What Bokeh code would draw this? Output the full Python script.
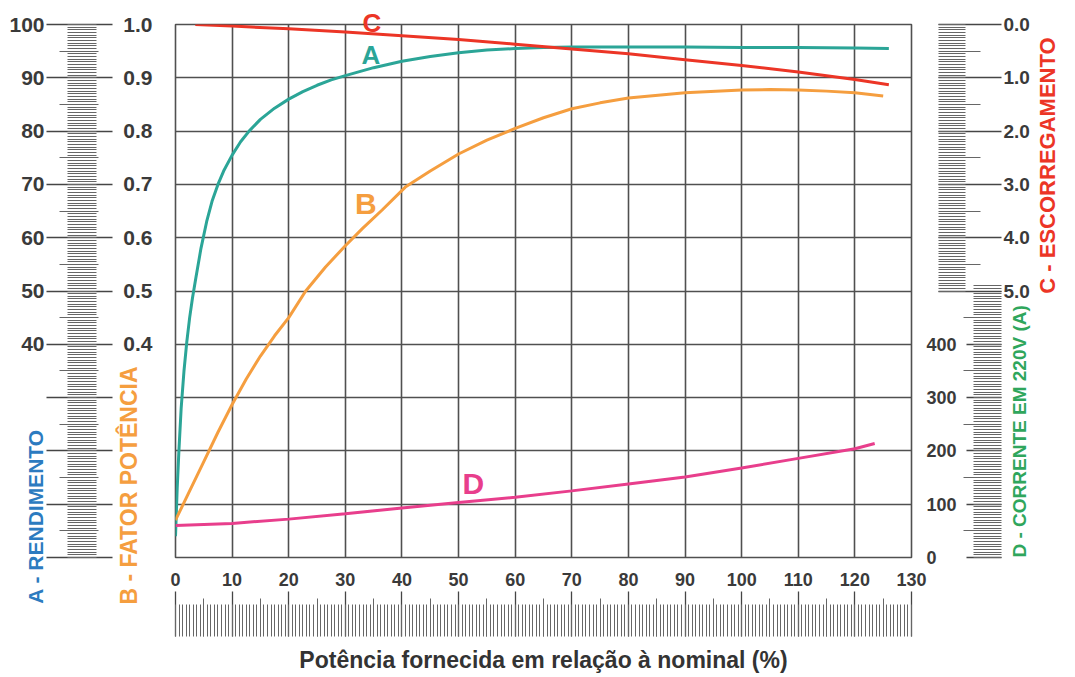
from math import pi
from bokeh.plotting import figure
from bokeh.models import LinearAxis, Range1d, FixedTicker, Label, Grid, NumeralTickFormatter
from bokeh.embed import file_html
from bokeh.resources import INLINE

# ---------------- data ----------------
# A - Rendimento (%)
a_power = [0, 0.3, 0.6, 1.0, 1.5, 2.0, 2.5, 3.0, 3.6, 4.5, 5.5, 6.5, 7.5, 8.5, 10, 11.5, 13, 15,
           17.5, 20, 22.5, 25, 27.5, 30, 35, 40, 45, 50, 55, 60, 65, 70, 80, 90, 100, 110, 120, 126]
a_efficiency = [4, 13, 20, 28, 35, 40.5, 45, 48.7, 52.5, 58, 63, 67, 70, 72.5, 75.5, 78, 80, 82.2,
                84.3, 86, 87.4, 88.6, 89.6, 90.4, 91.9, 93.1, 94, 94.7, 95.2, 95.5, 95.7, 95.8, 95.8,
                95.8, 95.7, 95.7, 95.6, 95.5]
# B - Fator de potência
b_power = [0, 2.5, 5, 7.5, 10, 12.5, 15, 17.5, 20, 23, 26.5, 30, 33, 36.5, 40.6, 45, 50, 55, 60,
           65, 70, 75, 80, 90, 100, 105, 110, 115, 120, 125]
b_power_factor = [0.07, 0.125, 0.18, 0.235, 0.287, 0.335, 0.378, 0.416, 0.45, 0.5, 0.545, 0.585, 0.617,
                  0.652, 0.695, 0.725, 0.757, 0.783, 0.805, 0.825, 0.842, 0.853, 0.862, 0.872, 0.877,
                  0.878, 0.877, 0.875, 0.872, 0.866]
# C - Escorregamento (%)
c_power = [3.5, 10, 20, 30, 40, 50, 60, 70, 80, 90, 100, 110, 120, 126]
c_slip = [0.0, 0.03, 0.08, 0.14, 0.21, 0.28, 0.37, 0.46, 0.55, 0.66, 0.77, 0.89, 1.03, 1.13]
# D - Corrente em 220 V (A)
d_power = [0, 10, 20, 30, 40, 50, 60, 70, 80, 90, 100, 110, 120, 123.5]
d_current = [60, 64, 72, 82, 93, 103, 113, 125, 138, 151, 168, 186, 204, 214]

# ---------------- ticks ----------------
x_ticks = list(range(0, 131, 10))
x_mid_ticks = list(range(5, 130, 10))
x_minor_ticks = [i * 0.625 for i in range(209)]
eff_ticks = list(range(0, 101, 10))
eff_hidden = {0: "", 10: "", 20: "", 30: ""}
eff_mid_ticks = list(range(5, 100, 10))
eff_minor_ticks = [i * 0.5 for i in range(201)]
pf_label_ticks = [0.4, 0.5, 0.6, 0.7, 0.8, 0.9, 1.0]
slip_ticks = [0, 1, 2, 3, 4, 5]
slip_mid_ticks = [0.5, 1.5, 2.5, 3.5, 4.5]
slip_minor_ticks = [i * 0.05 for i in range(101)]
amp_label_ticks = [0, 100, 200, 300, 400]
amp_mid_ticks = [50, 150, 250, 350, 450]
amp_minor_ticks = [i * 5 for i in range(103)]

x_title = "Potência fornecida em relação à nominal (%)"
title_a = "A - RENDIMENTO"
title_b = "B - FATOR POTÊNCIA"
title_c = "C - ESCORREGAMENTO"
title_d = "D - CORRENTE EM 220V (A)"

FONT = "Liberation Sans"
TXT = "#3a3a3a"
COL_A, COL_B, COL_C, COL_D = "#2ba597", "#f59e3f", "#ec3526", "#e83e8c"
COL_TA, COL_TD = "#2c7bc0", "#2fa65c"

p = figure(width=1075, height=677, output_backend="svg", toolbar_location=None,
           x_range=Range1d(0, 130), y_range=Range1d(0, 100),
           x_axis_location=None, y_axis_location=None,
           min_border_left=175, min_border_right=159, min_border_top=24, min_border_bottom=120,
           background_fill_color="white", border_fill_color="white",
           outline_line_color="#505050", outline_line_width=1.6)
p.extra_y_ranges = {"pf": Range1d(0, 1), "slip": Range1d(10, 0), "amp": Range1d(0, 1000)}

p.center = []
p.add_layout(Grid(dimension=0, ticker=FixedTicker(ticks=x_ticks), grid_line_color="#505050",
                  grid_line_width=1.6), "center")
p.add_layout(Grid(dimension=1, ticker=FixedTicker(ticks=eff_ticks), grid_line_color="#505050",
                  grid_line_width=1.6), "center")


def axis(**kw):
    base = dict(axis_line_color=None, major_tick_in=0, major_tick_out=0, minor_tick_in=0, minor_tick_out=0,
                major_label_text_font=FONT, major_label_text_font_style="bold",
                major_label_text_color=TXT, major_tick_line_color="#454545", major_tick_line_width=1.3,
                minor_tick_line_color="#666666", minor_tick_line_width=1)
    base.update(kw)
    return LinearAxis(**base)


def title_axis(rng, tick, txt, col, size, standoff, orient):
    return axis(y_range_name=rng, ticker=FixedTicker(ticks=[tick]), major_label_overrides={tick: txt},
                major_label_orientation=orient, major_label_standoff=standoff,
                major_label_text_color=col, major_label_text_font_size=size)


blank = dict(major_label_text_font_size="0px", major_label_standoff=0)

# ---- left side (stacked from the frame outwards) ----
p.add_layout(axis(y_range_name="pf", ticker=FixedTicker(ticks=pf_label_ticks),
                  formatter=NumeralTickFormatter(format="0.0"),
                  major_label_standoff=23, major_label_text_font_size="21px"), "left")
p.add_layout(title_axis("pf", 0.135, title_b, COL_B, "23px", -22, "vertical"), "left")
p.add_layout(title_axis("default", 7.7, title_a, COL_TA, "21px", 66, "vertical"), "left")
p.add_layout(axis(ticker=FixedTicker(ticks=eff_ticks, minor_ticks=eff_minor_ticks),
                  major_tick_out=-25, major_tick_in=91, minor_tick_out=-46, minor_tick_in=75,
                  major_label_overrides=eff_hidden, major_label_standoff=2,
                  major_label_text_font_size="21px"), "left")
p.add_layout(axis(ticker=FixedTicker(ticks=[], minor_ticks=eff_mid_ticks),
                  minor_tick_out=-53, minor_tick_in=92, **blank), "left")

# ---- bottom ----
p.add_layout(axis(ticker=FixedTicker(ticks=x_ticks), major_label_standoff=15,
                  major_label_text_font_size="18px"), "below")
p.add_layout(axis(ticker=FixedTicker(ticks=x_ticks, minor_ticks=x_minor_ticks),
                  major_tick_in=-3, major_tick_out=48, minor_tick_in=-16, minor_tick_out=48,
                  major_label_overrides={t: "" for t in x_ticks}, **blank), "below")
p.add_layout(axis(ticker=FixedTicker(ticks=[], minor_ticks=x_mid_ticks),
                  minor_tick_in=38, minor_tick_out=0, axis_label=x_title, axis_label_standoff=10,
                  axis_label_text_font=FONT, axis_label_text_font_size="23px",
                  axis_label_text_font_style="bold", axis_label_text_color="#333333", **blank), "below")

# ---- right side ----
p.add_layout(axis(y_range_name="amp", ticker=FixedTicker(ticks=amp_label_ticks),
                  major_label_standoff=15, major_label_text_font_size="18px"), "right")
p.add_layout(axis(y_range_name="amp", ticker=FixedTicker(ticks=amp_label_ticks, minor_ticks=amp_minor_ticks),
                  major_tick_in=-7, major_tick_out=42, minor_tick_in=-14, minor_tick_out=42,
                  major_label_overrides={t: "" for t in amp_label_ticks}, **blank), "right")
p.add_layout(axis(y_range_name="slip", ticker=FixedTicker(ticks=slip_ticks, minor_ticks=slip_minor_ticks),
                  major_tick_in=63, major_tick_out=0, minor_tick_in=63, minor_tick_out=-36,
                  formatter=NumeralTickFormatter(format="0.0"), major_label_standoff=2,
                  major_label_text_font_size="19px"), "right")
p.add_layout(axis(y_range_name="slip", ticker=FixedTicker(ticks=[], minor_ticks=slip_mid_ticks),
                  minor_tick_in=92, minor_tick_out=-52, **blank), "right")
p.add_layout(axis(y_range_name="amp", ticker=FixedTicker(ticks=[], minor_ticks=amp_mid_ticks),
                  minor_tick_in=69, minor_tick_out=-55, **blank), "right")
p.add_layout(title_axis("amp", 0, title_d, COL_TD, "19px", -13, pi / 2), "right")
p.add_layout(title_axis("slip", 5.05, title_c, COL_C, "22px", 4, pi / 2), "right")

# ---- curves ----
p.line(a_power, a_efficiency, line_color=COL_A, line_width=3)
p.line(b_power, b_power_factor, y_range_name="pf", line_color=COL_B, line_width=3)
p.line(c_power, c_slip, y_range_name="slip", line_color=COL_C, line_width=3)
p.line(d_power, d_current, y_range_name="amp", line_color=COL_D, line_width=3)

# ---- curve letters ----
for txt, x, y, rng, col, size in [("A", 34.5, 94.2, "default", COL_A, "26px"),
                                  ("B", 33.6, 0.664, "pf", COL_B, "30px"),
                                  ("D", 52.6, 139, "amp", COL_D, "30px")]:
    p.add_layout(Label(x=x, y=y, y_range_name=rng, text=txt, text_align="center", text_baseline="middle",
                       text_font=FONT, text_font_style="bold", text_font_size=size, text_color=col))
# letter C sits on the top border, so it is drawn as a one-tick axis label above the frame
p.add_layout(axis(ticker=FixedTicker(ticks=[34.7]), major_label_overrides={34.7: "C"},
                  major_label_standoff=-13, major_label_text_color=COL_C,
                  major_label_text_font_size="26px"), "above")

open("out.html", "w").write(file_html(p, INLINE))
